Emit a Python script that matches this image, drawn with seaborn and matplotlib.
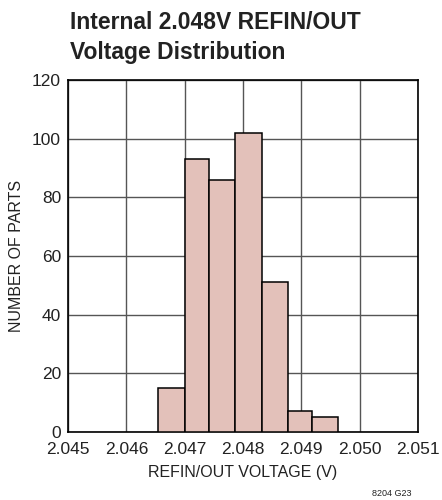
import matplotlib
matplotlib.use("Agg")
import matplotlib.pyplot as plt
import seaborn as sns
from matplotlib import font_manager

# Histogram bin edges (V) and parts counted in each bin
bin_edges = [2.04655, 2.0470, 2.04741, 2.04786, 2.04832, 2.04878, 2.04918, 2.04963]
part_counts = [15, 93, 86, 102, 51, 7, 5]
x_ticks = [2.045, 2.046, 2.047, 2.048, 2.049, 2.050, 2.051]
y_ticks = [0, 20, 40, 60, 80, 100, 120]

sns.set_theme(style="white")
names = {f.name for f in font_manager.fontManager.ttflist}
family = "Liberation Sans Narrow" if "Liberation Sans Narrow" in names else "Liberation Sans"
plt.rcParams["font.family"] = [family, "DejaVu Sans"]

centers = [(a + b) / 2 for a, b in zip(bin_edges[:-1], bin_edges[1:])]

fig = plt.figure(figsize=(4.42, 5.0), dpi=100)
ax = fig.add_axes([68 / 442, 1 - 432 / 500, 350 / 442, 352 / 500])

sns.histplot(x=centers, weights=part_counts, bins=bin_edges, ax=ax,
             color="#e3c1ba", alpha=1.0, edgecolor="black", linewidth=1.1, zorder=3)

ax.set_xlim(2.045, 2.051)
ax.set_ylim(0, 120)
ax.set_xticks(x_ticks)
ax.set_xticklabels([f"{t:.3f}" for t in x_ticks])
ax.set_yticks(y_ticks)
ax.grid(True, color="#555555", linewidth=1.0, zorder=0)
ax.set_axisbelow(True)
for s in ax.spines.values():
    s.set_color("black")
    s.set_linewidth(1.2)
ax.tick_params(axis="both", length=0, labelsize=12.5, colors="#222222")
ax.tick_params(axis="x", pad=7)
ax.tick_params(axis="y", pad=5)
ax.set_xlabel("REFIN/OUT VOLTAGE (V)", fontsize=11.5, color="#222222", labelpad=6)
ax.set_ylabel("NUMBER OF PARTS", fontsize=11.5, color="#222222")
ax.yaxis.set_label_coords(-0.125, 0.5)

fig.text(70 / 442, 1 - 11 / 500, "Internal 2.048V REFIN/OUT\nVoltage Distribution",
         fontsize=16.5, fontweight="bold", color="#222222", va="top", ha="left",
         linespacing=1.4)
fig.text(412 / 442, 1 - 498 / 500, "8204 G23", fontsize=6.5, color="#222222",
         ha="right", va="bottom")

fig.savefig("out.png", dpi=100)
